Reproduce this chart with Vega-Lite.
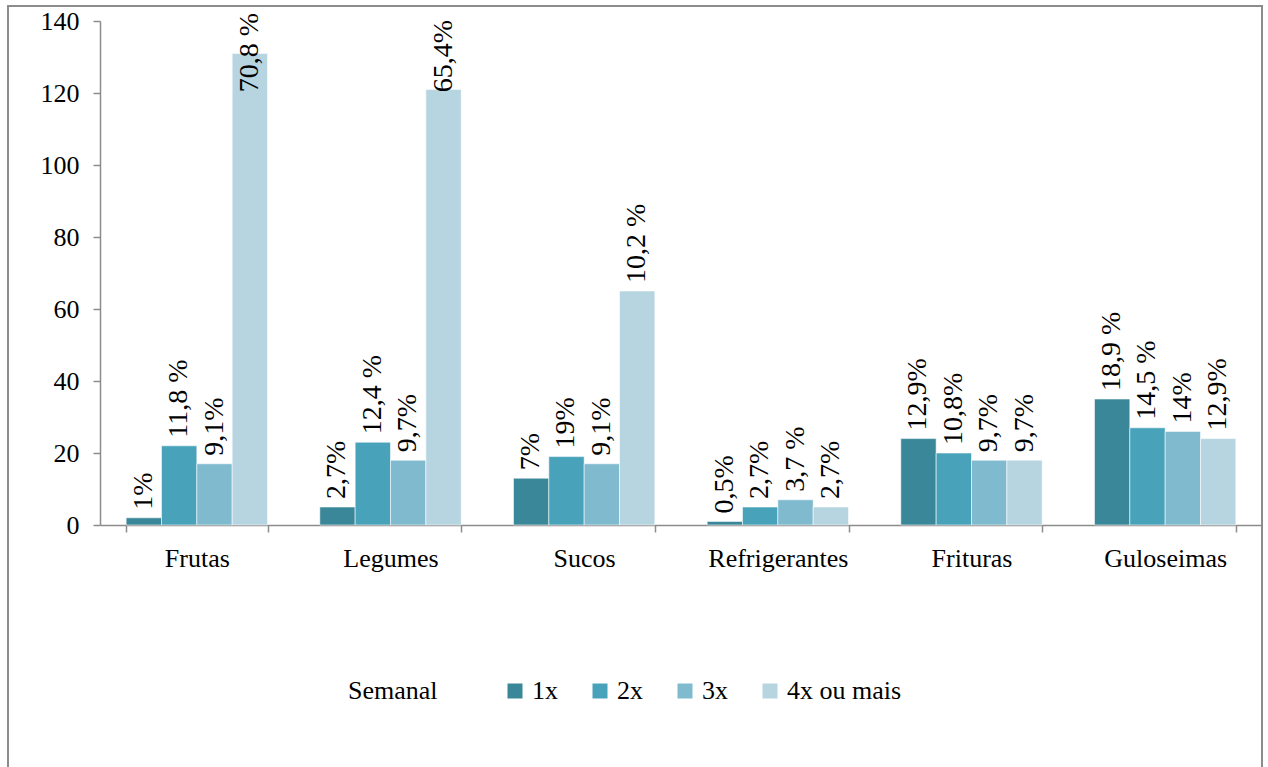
{
  "$schema": "https://vega.github.io/schema/vega-lite/v6.json",
  "autosize": {"type": "none"},
  "padding": {"left": 8, "top": 6, "right": 6, "bottom": -2},
  "width": 1254,
  "height": 763,
  "background": "white",
  "config": {
    "view": {"stroke": "#8c8c8c", "strokeWidth": 2},
    "font": "Liberation Serif, Times New Roman, serif",
    "text": {"font": "Liberation Serif, Times New Roman, serif"},
    "legend": {
      "titleFont": "Liberation Serif, Times New Roman, serif",
      "labelFont": "Liberation Serif, Times New Roman, serif"
    },
    "axis": {
      "labelFont": "Liberation Serif, Times New Roman, serif",
      "labelColor": "black",
      "domainColor": "#8c8c8c",
      "domainWidth": 1.5,
      "tickColor": "#8c8c8c",
      "tickWidth": 1.5,
      "tickSize": 7,
      "grid": false,
      "title": null
    }
  },
  "data": {
    "values": [
      {"alimento": "Frutas", "freq": "1x", "n": 2, "pct": "1%"},
      {"alimento": "Frutas", "freq": "2x", "n": 22, "pct": "11,8 %"},
      {"alimento": "Frutas", "freq": "3x", "n": 17, "pct": "9,1%"},
      {"alimento": "Frutas", "freq": "4x ou mais", "n": 131, "pct": "70,8 %"},
      {"alimento": "Legumes", "freq": "1x", "n": 5, "pct": "2,7%"},
      {"alimento": "Legumes", "freq": "2x", "n": 23, "pct": "12,4 %"},
      {"alimento": "Legumes", "freq": "3x", "n": 18, "pct": "9,7%"},
      {"alimento": "Legumes", "freq": "4x ou mais", "n": 121, "pct": "65,4%"},
      {"alimento": "Sucos", "freq": "1x", "n": 13, "pct": "7%"},
      {"alimento": "Sucos", "freq": "2x", "n": 19, "pct": "19%"},
      {"alimento": "Sucos", "freq": "3x", "n": 17, "pct": "9,1%"},
      {"alimento": "Sucos", "freq": "4x ou mais", "n": 65, "pct": "10,2 %"},
      {"alimento": "Refrigerantes", "freq": "1x", "n": 1, "pct": "0,5%"},
      {"alimento": "Refrigerantes", "freq": "2x", "n": 5, "pct": "2,7%"},
      {"alimento": "Refrigerantes", "freq": "3x", "n": 7, "pct": "3,7 %"},
      {"alimento": "Refrigerantes", "freq": "4x ou mais", "n": 5, "pct": "2,7%"},
      {"alimento": "Frituras", "freq": "1x", "n": 24, "pct": "12,9%"},
      {"alimento": "Frituras", "freq": "2x", "n": 20, "pct": "10,8%"},
      {"alimento": "Frituras", "freq": "3x", "n": 18, "pct": "9,7%"},
      {"alimento": "Frituras", "freq": "4x ou mais", "n": 18, "pct": "9,7%"},
      {"alimento": "Guloseimas", "freq": "1x", "n": 35, "pct": "18,9 %"},
      {"alimento": "Guloseimas", "freq": "2x", "n": 27, "pct": "14,5 %"},
      {"alimento": "Guloseimas", "freq": "3x", "n": 26, "pct": "14%"},
      {"alimento": "Guloseimas", "freq": "4x ou mais", "n": 24, "pct": "12,9%"}
    ]
  },
  "encoding": {
    "x": {
      "field": "alimento",
      "type": "nominal",
      "sort": null,
      "scale": {"range": [92, 1254], "paddingInner": 0.27, "paddingOuter": 0.135},
      "axis": {
        "orient": "bottom",
        "offset": -244,
        "tickBand": "extent",
        "labelAngle": 0,
        "labelFontSize": 26,
        "labelPadding": 13
      }
    },
    "xOffset": {
      "field": "freq",
      "type": "nominal",
      "sort": null,
      "scale": {"paddingInner": 0, "paddingOuter": 0}
    }
  },
  "layer": [
    {
      "mark": {"type": "bar", "stroke": "white", "strokeWidth": 0.8, "strokeOpacity": 0.7},
      "encoding": {
        "y": {
          "field": "n",
          "type": "quantitative",
          "scale": {"domain": [0, 140], "range": [519, 15], "nice": false},
          "axis": {
            "offset": -92,
            "values": [0, 20, 40, 60, 80, 100, 120, 140],
            "labelFontSize": 26,
            "labelPadding": 14
          }
        },
        "color": {
          "field": "freq",
          "type": "nominal",
          "sort": null,
          "scale": {
            "domain": ["1x", "2x", "3x", "4x ou mais"],
            "range": ["#3A8799", "#48A3BA", "#7FBACE", "#B6D5E0"]
          },
          "legend": {
            "title": "Semanal",
            "orient": "none",
            "direction": "horizontal",
            "legendX": 340,
            "legendY": 672,
            "titleOrient": "left",
            "titleFontSize": 26,
            "titleFontWeight": "normal",
            "titleColor": "black",
            "titlePadding": 64,
            "titleBaseline": "middle",
            "labelFontSize": 26,
            "labelColor": "black",
            "labelOffset": 4,
            "symbolType": "square",
            "symbolSize": 225,
            "symbolStrokeWidth": 0,
            "columnPadding": 29
          }
        }
      }
    },
    {
      "mark": {
        "type": "text",
        "angle": 270,
        "align": "left",
        "baseline": "middle",
        "dx": 8,
        "font": "Liberation Serif, Times New Roman, serif",
        "fontSize": 28,
        "color": "black"
      },
      "encoding": {
        "y": {
          "field": "n",
          "type": "quantitative",
          "scale": {"domain": [0, 118], "range": [519, 94.2], "nice": false, "clamp": true},
          "axis": null
        },
        "text": {"field": "pct"}
      }
    }
  ],
  "resolve": {"scale": {"y": "independent"}}
}
